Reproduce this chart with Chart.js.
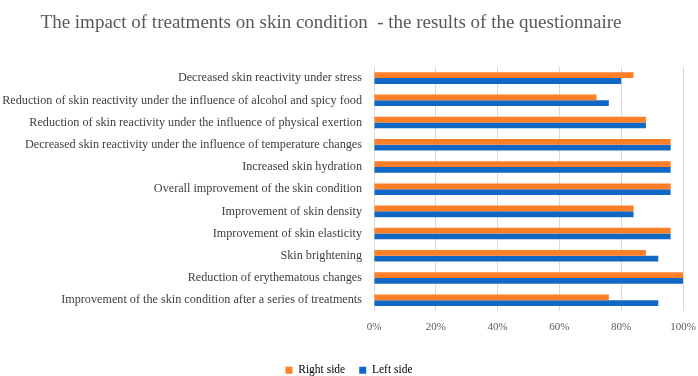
<!DOCTYPE html>
<html>
<head>
<meta charset="utf-8">
<script src="https://cdn.jsdelivr.net/npm/chart.js@4"></script>
<style>
  html, body { margin: 0; padding: 0; background: #fff; }
  #wrap { width: 698px; height: 376px; }
</style>
</head>
<body>
<div id="wrap"><canvas id="chart" width="698" height="376"></canvas></div>
<script>
const categories = [
  'Decreased skin reactivity under stress',
  'Reduction of skin reactivity under the influence of alcohol and spicy food',
  'Reduction of skin reactivity under the influence of physical exertion',
  'Decreased skin reactivity under the influence of temperature changes',
  'Increased skin hydration',
  'Overall improvement of the skin condition',
  'Improvement of skin density',
  'Improvement of skin elasticity',
  'Skin brightening',
  'Reduction of erythematous changes',
  'Improvement of the skin condition after a series of treatments'
];
const rightSide = [84, 72, 88, 96, 96, 96, 84, 96, 88, 100, 76];
const leftSide = [80, 76, 88, 96, 96, 96, 84, 96, 92, 100, 92];
const xTicks = [0, 20, 40, 60, 80, 100];

const titleText = 'The impact of treatments on skin condition  - the results of the questionnaire';
const serif = '"Liberation Serif", "Times New Roman", serif';

// title drawn by hand so it can sit a bit left of centre like the original
const titlePlugin = {
  id: 'sideTitle',
  afterDraw(chart) {
    const ctx = chart.ctx;
    ctx.save();
    ctx.font = '19px ' + serif;
    ctx.fillStyle = '#595959';
    ctx.textAlign = 'center';
    ctx.textBaseline = 'middle';
    ctx.fillText(titleText, 331, 23);
    ctx.restore();
  }
};

new Chart(document.getElementById('chart'), {
  type: 'bar',
  data: {
    labels: categories,
    datasets: [
      { label: 'Right side', data: rightSide, backgroundColor: '#FF7F27' },
      { label: 'Left side', data: leftSide, backgroundColor: '#1068C4' }
    ]
  },
  options: {
    indexAxis: 'y',
    responsive: false,
    animation: false,
    layout: { padding: { top: 67, right: 0, bottom: -10, left: 0 } },
    datasets: { bar: { categoryPercentage: 0.52, barPercentage: 1.0 } },
    plugins: {
      title: { display: false },
      tooltip: { enabled: false },
      legend: {
        position: 'bottom',
        labels: {
          font: { family: serif, size: 11.5 },
          color: '#404040',
          boxWidth: 7,
          boxHeight: 7,
          padding: 14,
          generateLabels(chart) {
            return chart.data.datasets.map((ds, i) => ({
              text: ds.label,
              fillStyle: ds.backgroundColor,
              strokeStyle: ds.backgroundColor,
              lineWidth: 0,
              datasetIndex: i
            }));
          }
        }
      }
    },
    scales: {
      x: {
        min: 0,
        max: 100,
        afterBuildTicks(axis) { axis.ticks = xTicks.map(v => ({ value: v })); },
        afterFit(axis) {
          axis.height += 8;
          axis.paddingRight = 15;
        },
        ticks: {
          callback: v => v + '%',
          font: { family: serif, size: 11 },
          color: '#595959',
          padding: 9
        },
        grid: { color: '#D9D9D9', drawTicks: false },
        border: { display: false }
      },
      y: {
        afterFit(axis) { axis.width = 374; },
        ticks: {
          font: { family: serif, size: 12.2 },
          color: '#404040',
          padding: 12,
          autoSkip: false
        },
        grid: { display: false, drawTicks: false },
        border: { display: false }
      }
    }
  },
  plugins: [titlePlugin]
});
</script>
</body>
</html>
